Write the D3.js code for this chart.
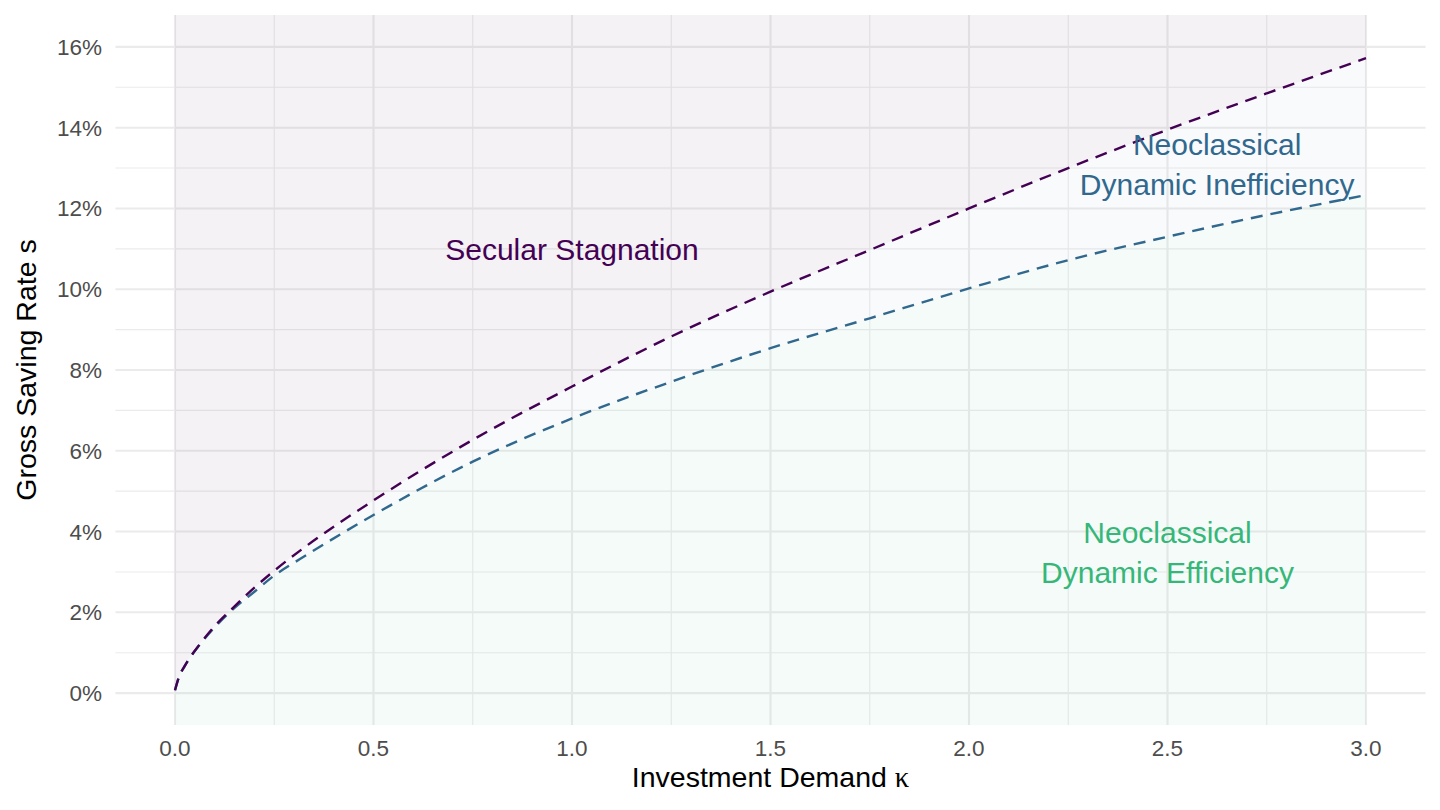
<!DOCTYPE html>
<html>
<head>
<meta charset="utf-8">
<script src="https://cdn.jsdelivr.net/npm/d3@7"></script>
<style>
    html, body { margin: 0; padding: 0; background: #fff; }
    svg text { font-family: 'Liberation Sans', Arial, sans-serif; }
</style>
</head>
<body>
<div id="chart"></div>
<script>
// investment demand (x) and the two boundary curves
var kappa = [0, 0.01, 0.025, 0.0625, 0.1, 0.15, 0.2, 0.25, 0.325, 0.5, 0.75, 1, 1.25, 1.5, 1.75, 2, 2.25, 2.5, 2.75, 3];
var stagnationLine = [0.0007, 0.004, 0.0068, 0.0121, 0.0166, 0.0215, 0.0261, 0.0303, 0.036, 0.0477, 0.0627, 0.0759, 0.0883, 0.0994, 0.1097, 0.12, 0.13, 0.1395, 0.1485, 0.1572];
var efficiencyLine = [0.0007, 0.004, 0.0068, 0.012, 0.0163, 0.0211, 0.0251, 0.0291, 0.0338, 0.0441, 0.0573, 0.068, 0.0771, 0.0854, 0.0928, 0.1002, 0.1072, 0.113, 0.1184, 0.1233];

var xTicks = [0, 0.5, 1, 1.5, 2, 2.5, 3];
var xMinorTicks = [0.25, 0.75, 1.25, 1.75, 2.25, 2.75];
var yTicks = [0, 0.02, 0.04, 0.06, 0.08, 0.10, 0.12, 0.14, 0.16];
var yMinorTicks = [0.01, 0.03, 0.05, 0.07, 0.09, 0.11, 0.13, 0.15];

var labels = [
    { lines: ['Secular Stagnation'], k: 1.0, s: 0.11, color: '#440154' },
    { lines: ['Neoclassical', 'Dynamic Inefficiency'], k: 2.625, s: 0.131, color: '#31688E' },
    { lines: ['Neoclassical', 'Dynamic Efficiency'], k: 2.5, s: 0.035, color: '#35B779' }
];

(function () {
    var width = 1440, height = 810,
        panel = { left: 115.45, right: 1425.55, top: 15, bottom: 725 };

    var data = kappa.map(function (k, i) {
        return { k: k, top: stagnationLine[i], low: efficiencyLine[i] };
    });

    var x = d3.scaleLinear().domain([-0.15, 3.15]).range([panel.left, panel.right]);
    var y = d3.scaleLinear().domain([-0.0079, 0.1679]).range([panel.bottom, panel.top]);

    var svg = d3.select('#chart').append('svg')
        .attr('width', width).attr('height', height);

    // grid
    var grid = svg.append('g').attr('class', 'grid');
    grid.selectAll('.ymin').data(yMinorTicks).enter().append('line')
        .attr('x1', panel.left).attr('x2', panel.right)
        .attr('y1', function (d) { return y(d); }).attr('y2', function (d) { return y(d); })
        .attr('stroke', '#EBEBEB').attr('stroke-width', 1.1);
    grid.selectAll('.xmin').data(xMinorTicks).enter().append('line')
        .attr('y1', panel.top).attr('y2', panel.bottom)
        .attr('x1', function (d) { return x(d); }).attr('x2', function (d) { return x(d); })
        .attr('stroke', '#EBEBEB').attr('stroke-width', 1.1);
    grid.selectAll('.ymaj').data(yTicks).enter().append('line')
        .attr('x1', panel.left).attr('x2', panel.right)
        .attr('y1', function (d) { return y(d); }).attr('y2', function (d) { return y(d); })
        .attr('stroke', '#EBEBEB').attr('stroke-width', 2.1);
    grid.selectAll('.xmaj').data(xTicks).enter().append('line')
        .attr('y1', panel.top).attr('y2', panel.bottom)
        .attr('x1', function (d) { return x(d); }).attr('x2', function (d) { return x(d); })
        .attr('stroke', '#EBEBEB').attr('stroke-width', 2.1);

    // regions
    var curve = d3.curveMonotoneX;
    var areaTop = d3.area().curve(curve)
        .x(function (d) { return x(d.k); })
        .y0(panel.top).y1(function (d) { return y(d.top); });
    var areaMid = d3.area().curve(curve)
        .x(function (d) { return x(d.k); })
        .y0(function (d) { return y(d.low); }).y1(function (d) { return y(d.top); });
    var areaLow = d3.area().curve(curve)
        .x(function (d) { return x(d.k); })
        .y0(panel.bottom).y1(function (d) { return y(d.low); });

    svg.append('path').datum(data).attr('d', areaTop).attr('fill', '#440154').attr('fill-opacity', 0.05);
    svg.append('path').datum(data).attr('d', areaMid).attr('fill', '#31688E').attr('fill-opacity', 0.035);
    svg.append('path').datum(data).attr('d', areaLow).attr('fill', '#35B779').attr('fill-opacity', 0.05);

    // boundary lines
    var lineTop = d3.line().curve(curve)
        .x(function (d) { return x(d.k); }).y(function (d) { return y(d.top); });
    var lineLow = d3.line().curve(curve)
        .x(function (d) { return x(d.k); }).y(function (d) { return y(d.low); });

    svg.append('path').datum(data).attr('d', lineLow)
        .attr('fill', 'none').attr('stroke', '#31688E').attr('stroke-width', 2.4)
        .attr('stroke-dasharray', '12,8');
    svg.append('path').datum(data).attr('d', lineTop)
        .attr('fill', 'none').attr('stroke', '#440154').attr('stroke-width', 2.4)
        .attr('stroke-dasharray', '12,8');

    // annotations
    var fontSize = 30, lineGap = 40;
    labels.forEach(function (lab) {
        var n = lab.lines.length,
            cy = y(lab.s),
            first = cy - (n - 1) * lineGap / 2 + fontSize * 0.36;
        var t = svg.append('text')
            .attr('text-anchor', 'middle')
            .attr('fill', lab.color)
            .attr('font-size', fontSize);
        lab.lines.forEach(function (str, i) {
            t.append('tspan').attr('x', x(lab.k)).attr('y', first + i * lineGap).text(str);
        });
    });

    // tick labels
    svg.selectAll('.xlab').data(xTicks).enter().append('text')
        .attr('x', function (d) { return x(d); })
        .attr('y', 756)
        .attr('text-anchor', 'middle')
        .attr('fill', '#4D4D4D').attr('font-size', 22.5)
        .text(d3.format('.1f'));
    svg.selectAll('.ylab').data(yTicks).enter().append('text')
        .attr('x', 102)
        .attr('y', function (d) { return y(d) + 8; })
        .attr('text-anchor', 'end')
        .attr('fill', '#4D4D4D').attr('font-size', 22.5)
        .text(d3.format('.0%'));

    // axis titles
    var xTitle = svg.append('text')
        .attr('x', (x(0) + x(3)) / 2).attr('y', 787)
        .attr('text-anchor', 'middle')
        .attr('fill', '#000').attr('font-size', 28.5);
    xTitle.append('tspan').text('Investment Demand ');
    xTitle.append('tspan').style('font-family', "'Liberation Serif', 'DejaVu Serif', serif").text('κ');

    svg.append('text')
        .attr('transform', 'translate(36,' + ((panel.top + panel.bottom) / 2) + ') rotate(-90)')
        .attr('text-anchor', 'middle')
        .attr('fill', '#000').attr('font-size', 28.5)
        .text('Gross Saving Rate s');
})();
</script>
</body>
</html>
